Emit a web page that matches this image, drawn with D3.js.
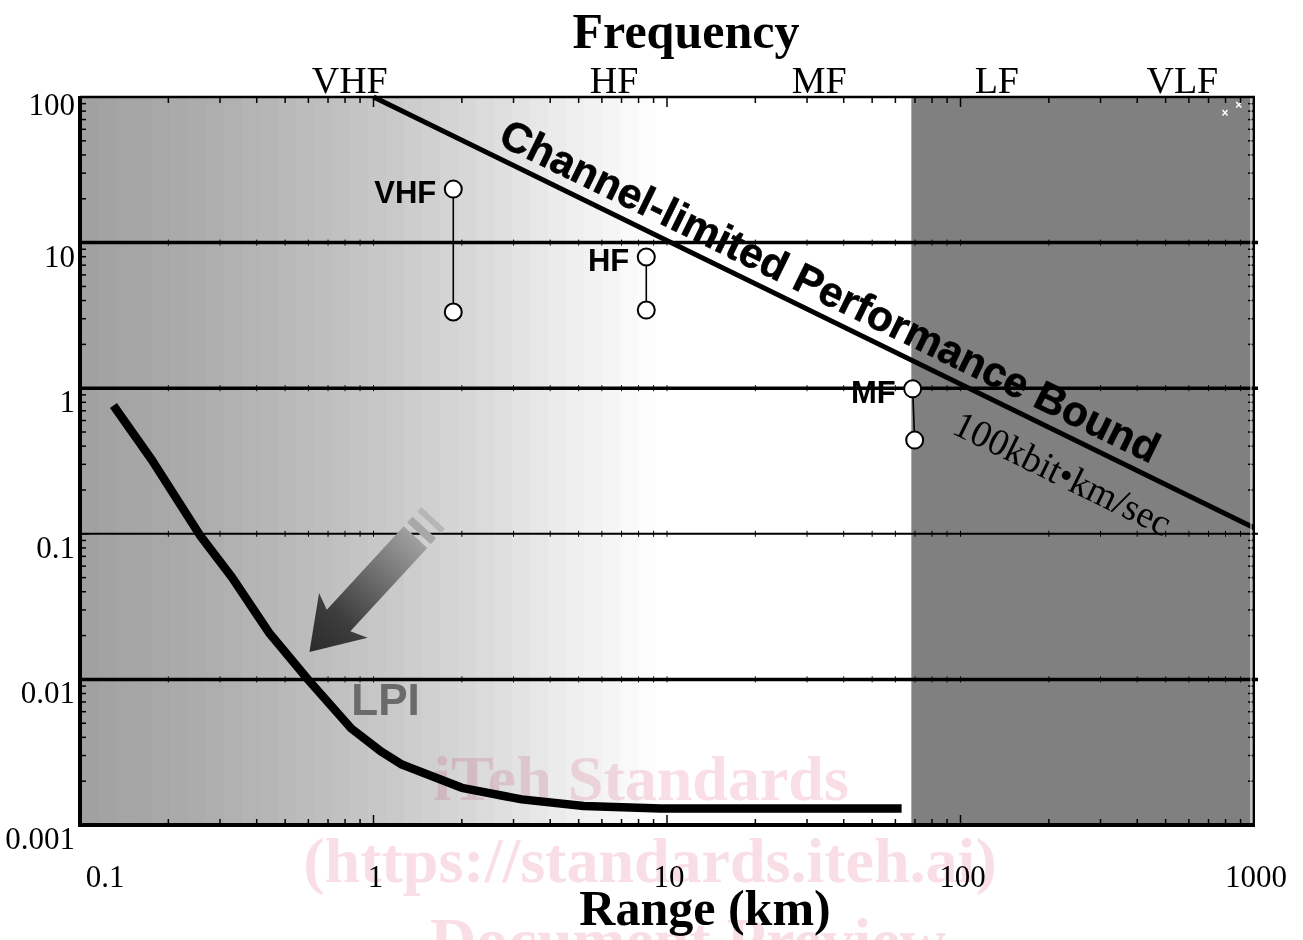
<!DOCTYPE html>
<html>
<head>
<meta charset="utf-8">
<script src="https://cdn.jsdelivr.net/npm/d3@7/dist/d3.min.js"></script>
<style>
  body { margin: 0; background: #fff; }
  svg { display: block; }
  .serif { font-family: "Liberation Serif", "Times New Roman", serif; }
  .sans { font-family: "Liberation Sans", Arial, sans-serif; font-weight: bold; }
</style>
</head>
<body>
<div id="chart"></div>
<script>
// Frequency bands written along the top
var band_labels = ["VHF", "HF", "MF", "LF", "VLF"];
var band_range = [0.83, 6.6, 33, 133, 570];

// Axis ticks
var range_ticks = [0.1, 1, 10, 100, 1000];
var range_tick_labels = ["0.1", "1", "10", "100", "1000"];
var rate_ticks = [0.001, 0.01, 0.1, 1, 10, 100];
var rate_tick_labels = ["0.001", "0.01", "0.1", "1", "10", "100"];
var grid_rates = [10, 1, 0.1, 0.01];

// Where the dark LF/VLF band starts (km)
var dark_band_start = 68;

// Channel-limited bound, 100 kbit km/sec
var bound_range = [1, 1000];
var bound_rate = [100, 0.11];

// Measured systems (top and bottom points)
var system_names = ["VHF", "HF", "MF"];
var system_range_top = [1.87, 8.5, 68.7];
var system_range_bottom = [1.87, 8.5, 69.8];
var system_rate_top = [23.3, 7.96, 0.99];
var system_rate_bottom = [3.34, 3.44, 0.44];

// LPI curve
var lpi_range = [0.13, 0.176, 0.256, 0.33, 0.44, 0.6, 0.84, 1.06, 1.25, 2.0, 3.2, 5.2, 9.5, 63];
var lpi_rate = [0.76, 0.32, 0.098, 0.05, 0.021, 0.0099, 0.0046, 0.0032, 0.0026, 0.0018, 0.0015, 0.00135, 0.0013, 0.0013];

// Arrow pointing towards LPI (tail, tip)
var arrow_range = [1.39, 0.605];
var arrow_rate = [0.095, 0.0154];

// LPI label, bound labels
var lpi_label_range = 0.84, lpi_label_rate = 0.0057;
var bound_label_range = 32.8, bound_unit_range = 257;

// little white specks top right
var speck_range = [796, 887];
var speck_rate = [77.6, 88];

var create_chart = function() {
  var width = 1303, height = 940;
  var left = 80, right = 1254, top = 97, bottom = 825;

  var svg = d3.select("#chart").append("svg")
      .attr("width", width)
      .attr("height", height);

  var x = d3.scaleLog().domain([0.1, 1000]).range([left, right]);
  var y = d3.scaleLog().domain([0.001, 100]).range([bottom, top]);

  var defs = svg.append("defs");

  // Background: stepped gray -> white gradient, white band, dark band
  var shade = d3.scaleLinear()
      .domain([80, 200, 300, 400, 500, 560, 620, 665])
      .range(["#a0a0a0", "#acacac", "#bbbbbb", "#cacaca", "#dedede", "#ececec", "#f7f7f7", "#ffffff"])
      .clamp(true);
  svg.append("rect")
      .attr("x", left).attr("y", top)
      .attr("width", right - left).attr("height", bottom - top)
      .attr("fill", "#fff");
  var step = 18;
  for (var sx = left; sx < 680; sx += step) {
    svg.append("rect")
        .attr("x", sx).attr("y", top)
        .attr("width", step + 0.5).attr("height", bottom - top)
        .attr("fill", shade(sx + step / 2));
  }
  svg.append("rect")
      .attr("x", x(dark_band_start)).attr("y", top)
      .attr("width", right - x(dark_band_start)).attr("height", bottom - top)
      .attr("fill", "#808080");

  // Grid lines with small ticks
  var minor_x = x.ticks();
  grid_rates.forEach(function(r) {
    var gy = y(r);
    svg.append("line")
        .attr("x1", left).attr("x2", right + 4)
        .attr("y1", gy).attr("y2", gy)
        .attr("stroke", "#000")
        .attr("stroke-width", r === 0.1 ? 2 : 3.5);
    minor_x.forEach(function(t) {
      svg.append("line")
          .attr("x1", x(t)).attr("x2", x(t))
          .attr("y1", gy - 3).attr("y2", gy + 3)
          .attr("stroke", "#000").attr("stroke-width", 1);
    });
  });

  // Channel-limited bound
  var bx0 = x(bound_range[0]), by0 = y(bound_rate[0]);
  var bx1 = x(bound_range[1]), by1 = y(bound_rate[1]);
  svg.append("line")
      .attr("x1", bx0).attr("y1", by0)
      .attr("x2", bx1).attr("y2", by1)
      .attr("stroke", "#000").attr("stroke-width", 5);

  var angle = Math.atan2(by1 - by0, bx1 - bx0) * 180 / Math.PI;
  var bound_y_at = function(px) {
    return by0 + (px - bx0) * (by1 - by0) / (bx1 - bx0);
  };

  var lx = x(bound_label_range);
  svg.append("text")
      .attr("class", "sans")
      .attr("transform", "translate(" + lx + "," + bound_y_at(lx) + ") rotate(" + angle + ")")
      .attr("x", 0).attr("y", -12)
      .attr("text-anchor", "middle")
      .attr("font-size", 42)
      .attr("stroke", "#000").attr("stroke-width", 0.6)
      .text("Channel-limited Performance Bound");

  var ux = x(bound_unit_range);
  svg.append("text")
      .attr("class", "serif")
      .attr("transform", "translate(" + ux + "," + bound_y_at(ux) + ") rotate(" + angle + ")")
      .attr("x", -3).attr("y", 48)
      .attr("text-anchor", "middle")
      .attr("font-size", 38)
      .text("100kbit\u2022km/sec");

  // LPI curve
  var lpi = lpi_range.map(function(d, i) { return [d, lpi_rate[i]]; });
  var line = d3.line()
      .x(function(d) { return x(d[0]); })
      .y(function(d) { return y(d[1]); });
  svg.append("path")
      .attr("d", line(lpi))
      .attr("fill", "none")
      .attr("stroke", "#000")
      .attr("stroke-width", 8.5)
      .attr("stroke-linejoin", "round");

  // Arrow with gradient
  var tip = [x(arrow_range[1]), y(arrow_rate[1])];
  var tail = [x(arrow_range[0]), y(arrow_rate[0])];
  var adx = tail[0] - tip[0], ady = tail[1] - tip[1];
  var alen = Math.sqrt(adx * adx + ady * ady);
  var aux = adx / alen, auy = ady / alen;
  var apx = -auy, apy = aux;
  var pt = function(a, b) {
    return [tip[0] + aux * a + apx * b, tip[1] + auy * a + apy * b];
  };
  var grad = defs.append("linearGradient")
      .attr("id", "arrow-grad")
      .attr("gradientUnits", "userSpaceOnUse")
      .attr("x1", tip[0]).attr("y1", tip[1])
      .attr("x2", tail[0]).attr("y2", tail[1]);
  grad.append("stop").attr("offset", 0).attr("stop-color", "#2b2b2b");
  grad.append("stop").attr("offset", 0.3).attr("stop-color", "#3d3d3d");
  grad.append("stop").attr("offset", 1).attr("stop-color", "#a0a0a0");

  var head_len = 50, head_half = 33, shaft_half = 16;
  var arrow_pts = [pt(0, 0), pt(head_len, head_half), pt(head_len - 7, shaft_half),
                   pt(alen, shaft_half), pt(alen, -shaft_half),
                   pt(head_len - 7, -shaft_half), pt(head_len, -head_half)];
  svg.append("polygon")
      .attr("points", arrow_pts.map(function(p) { return p.join(","); }).join(" "))
      .attr("fill", "url(#arrow-grad)");
  var stripes = [[alen + 5, alen + 13, "#a8a8a8"], [alen + 20, alen + 26, "#b6b6b6"]];
  stripes.forEach(function(s) {
    var ps = [pt(s[0], shaft_half), pt(s[1], shaft_half), pt(s[1], -shaft_half), pt(s[0], -shaft_half)];
    svg.append("polygon")
        .attr("points", ps.map(function(p) { return p.join(","); }).join(" "))
        .attr("fill", s[2]);
  });

  svg.append("text")
      .attr("class", "sans")
      .attr("x", x(lpi_label_range)).attr("y", y(lpi_label_rate))
      .attr("font-size", 44)
      .attr("fill", "#6a6a6a")
      .text("LPI");

  // Measured systems
  for (var i = 0; i < system_names.length; i++) {
    var tx = x(system_range_top[i]), ty = y(system_rate_top[i]);
    var bx = x(system_range_bottom[i]), byy = y(system_rate_bottom[i]);
    svg.append("line")
        .attr("x1", tx).attr("y1", ty)
        .attr("x2", bx).attr("y2", byy)
        .attr("stroke", "#000").attr("stroke-width", 1.6);
    [[tx, ty], [bx, byy]].forEach(function(c) {
      svg.append("circle")
          .attr("cx", c[0]).attr("cy", c[1]).attr("r", 8.5)
          .attr("fill", "#fff")
          .attr("stroke", "#000").attr("stroke-width", 2);
    });
    svg.append("text")
        .attr("class", "sans")
        .attr("x", tx - 17).attr("y", ty + 14)
        .attr("text-anchor", "end")
        .attr("font-size", 31)
        .text(system_names[i]);
  }

  // Specks
  speck_range.forEach(function(d, i) {
    svg.append("text")
        .attr("class", "sans")
        .attr("x", x(d)).attr("y", y(speck_rate[i]))
        .attr("text-anchor", "middle")
        .attr("dominant-baseline", "central")
        .attr("font-size", 12)
        .attr("fill", "#fff")
        .text("\u00d7");
  });

  // Frame and ticks
  var minor_y = y.ticks();
  var is_major = function(v) {
    var l = Math.log10(v);
    return Math.abs(l - Math.round(l)) < 1e-6;
  };
  minor_y.forEach(function(t) {
    var len = is_major(t) ? 9 : 6;
    svg.append("line")
        .attr("x1", left).attr("x2", left + len)
        .attr("y1", y(t)).attr("y2", y(t))
        .attr("stroke", "#000").attr("stroke-width", 1.5);
    svg.append("line")
        .attr("x1", right - len).attr("x2", right)
        .attr("y1", y(t)).attr("y2", y(t))
        .attr("stroke", "#000").attr("stroke-width", 1.5);
  });
  minor_x.forEach(function(t) {
    var len = is_major(t) ? 10 : 6;
    svg.append("line")
        .attr("x1", x(t)).attr("x2", x(t))
        .attr("y1", top).attr("y2", top + len)
        .attr("stroke", "#000").attr("stroke-width", 1.5);
    svg.append("line")
        .attr("x1", x(t)).attr("x2", x(t))
        .attr("y1", bottom - len).attr("y2", bottom)
        .attr("stroke", "#000").attr("stroke-width", 1.5);
  });

  svg.append("line")
      .attr("x1", right - 3).attr("x2", right - 3)
      .attr("y1", top).attr("y2", bottom)
      .attr("stroke", "#fff").attr("stroke-width", 1);
  svg.append("line")
      .attr("x1", right).attr("x2", right)
      .attr("y1", top - 1).attr("y2", bottom)
      .attr("stroke", "#000").attr("stroke-width", 2);
  svg.append("line")
      .attr("x1", left).attr("x2", right + 1)
      .attr("y1", top).attr("y2", top)
      .attr("stroke", "#000").attr("stroke-width", 2.5);
  svg.append("line")
      .attr("x1", left - 2).attr("x2", right + 1)
      .attr("y1", bottom).attr("y2", bottom)
      .attr("stroke", "#000").attr("stroke-width", 4);
  svg.append("line")
      .attr("x1", left).attr("x2", left)
      .attr("y1", top - 1).attr("y2", bottom + 2)
      .attr("stroke", "#000").attr("stroke-width", 4);

  // Tick labels
  range_ticks.forEach(function(t, i) {
    svg.append("text")
        .attr("class", "serif")
        .attr("x", x(t) + (i === 0 ? 25 : 2)).attr("y", 887)
        .attr("text-anchor", "middle")
        .attr("font-size", 31)
        .text(range_tick_labels[i]);
  });
  rate_ticks.forEach(function(t, i) {
    svg.append("text")
        .attr("class", "serif")
        .attr("x", 75).attr("y", y(t) + (i === rate_ticks.length - 1 ? 18 : 24))
        .attr("text-anchor", "end")
        .attr("font-size", 31)
        .text(rate_tick_labels[i]);
  });

  // Frequency band labels and titles
  band_range.forEach(function(b, i) {
    svg.append("text")
        .attr("class", "serif")
        .attr("x", x(b)).attr("y", 93)
        .attr("text-anchor", "middle")
        .attr("font-size", 38)
        .text(band_labels[i]);
  });

  svg.append("text")
      .attr("class", "serif")
      .attr("x", 686).attr("y", 48)
      .attr("text-anchor", "middle")
      .attr("font-size", 50)
      .attr("font-weight", "bold")
      .text("Frequency");

  svg.append("text")
      .attr("class", "serif")
      .attr("x", 705).attr("y", 925)
      .attr("text-anchor", "middle")
      .attr("font-size", 50)
      .attr("font-weight", "bold")
      .text("Range (km)");

  // Watermark of the source document
  var wm = svg.append("g")
      .attr("class", "serif")
      .attr("font-weight", "bold")
      .attr("font-size", 64)
      .attr("text-anchor", "middle")
      .attr("fill", "#f9dfe5")
      .style("mix-blend-mode", "multiply");
  wm.append("text").attr("x", 641).attr("y", 800).text("iTeh Standards");
  wm.append("text").attr("x", 650).attr("y", 882).text("(https://standards.iteh.ai)");
  wm.append("text").attr("x", 688).attr("y", 962).text("Document Preview");
};

create_chart();
</script>
</body>
</html>
